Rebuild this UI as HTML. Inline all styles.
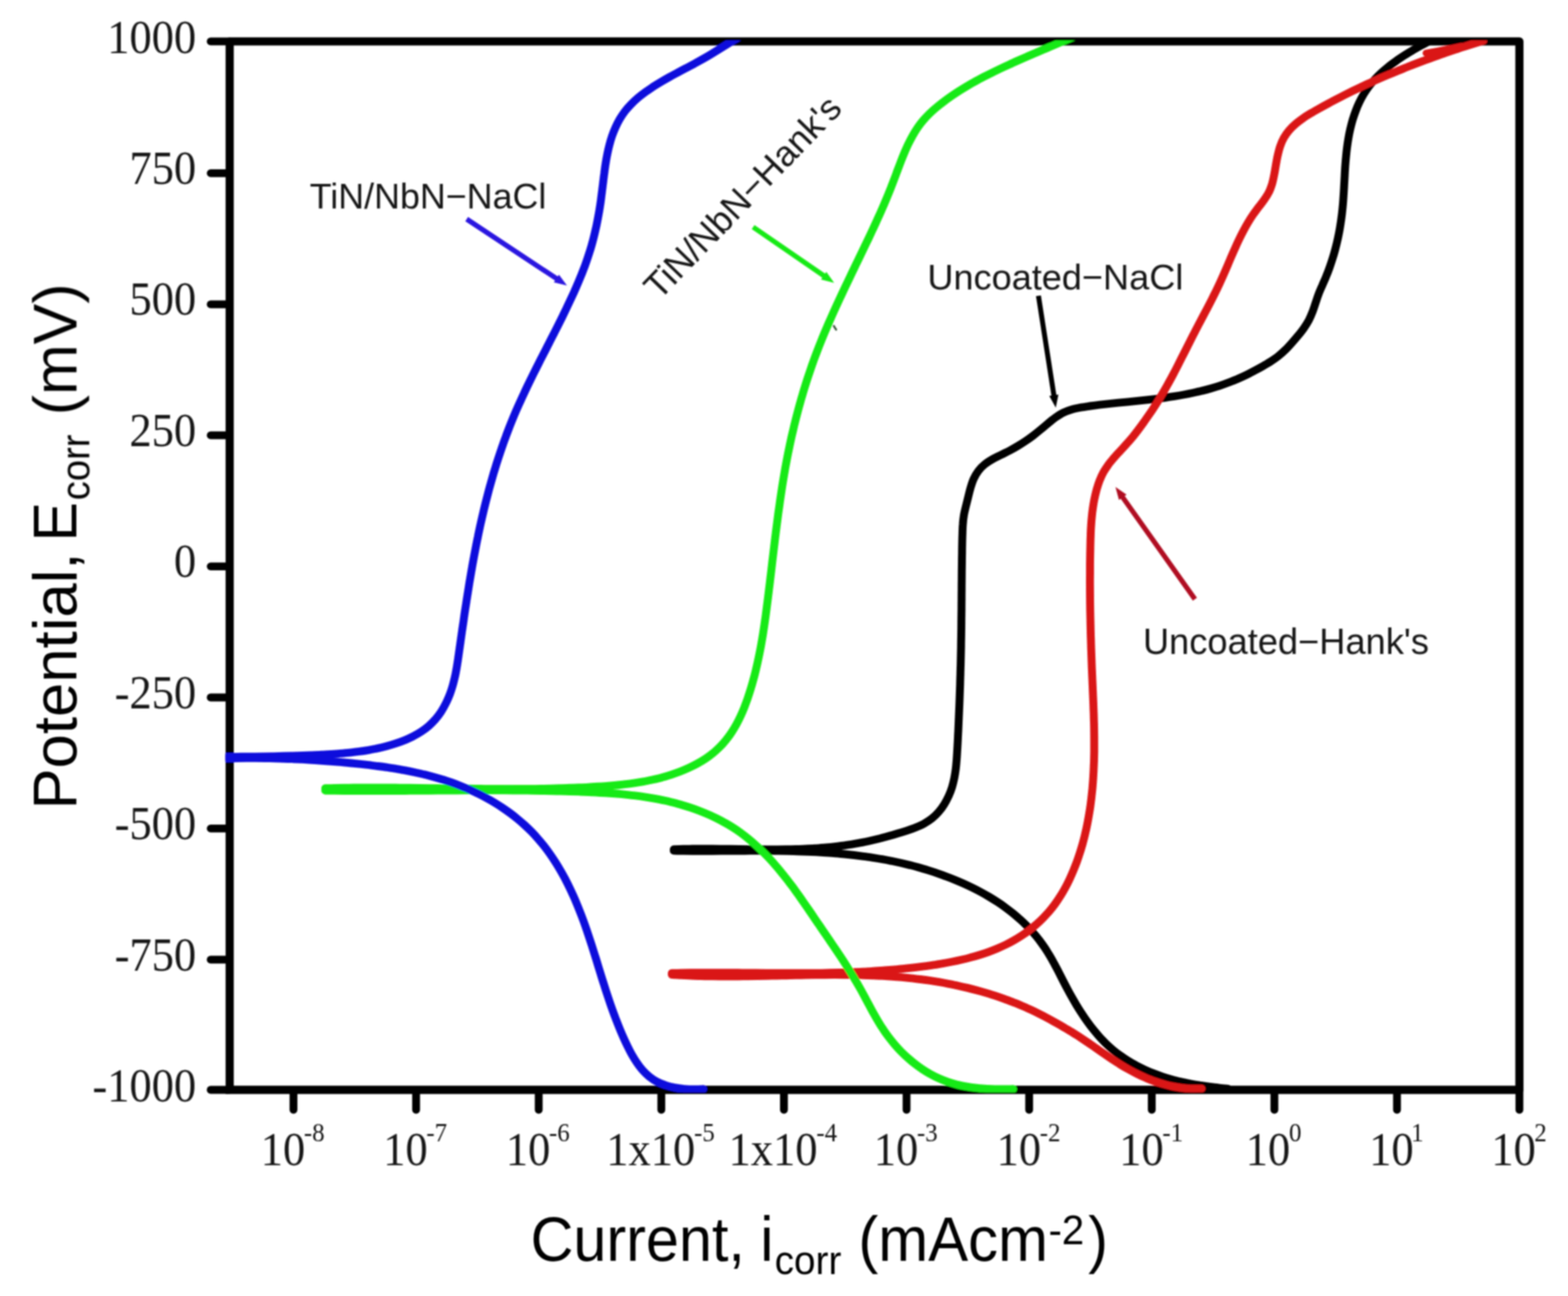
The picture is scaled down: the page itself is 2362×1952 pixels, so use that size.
<!DOCTYPE html>
<html lang="en">
<head>
<meta charset="utf-8">
<title>Potentiodynamic polarization curves</title>
<style>
html,body{margin:0;padding:0;background:#fff;}
body{width:2362px;height:1952px;overflow:hidden;}
svg{display:block;}
.tick{font-family:"Liberation Serif","DejaVu Serif",serif;fill:#151515;}
.lab{font-family:"Liberation Sans","DejaVu Sans",sans-serif;fill:#000;}
.ann{font-family:"Liberation Sans","DejaVu Sans",sans-serif;fill:#151515;}
.crv path{fill:none;stroke-linecap:round;stroke-linejoin:round;}
</style>
</head>
<body>
<svg xmlns="http://www.w3.org/2000/svg" width="2362" height="1952" viewBox="0 0 2362 1952">
<rect x="0" y="0" width="2362" height="1952" fill="#fff"/>
<g id="chart" filter="url(#soft)">

<g stroke="#000" fill="none" stroke-linecap="round">
<path d="M346.0 62.3 H2288.8 V1641.5" stroke-width="12.3" stroke-linejoin="round"/>
<path d="M2288.8 1641.5 H346.0 V62.3" stroke-width="12.3" stroke-linejoin="miter" stroke-linecap="butt"/>
<g stroke-width="11.8">
<path d="M317.4 62.3 H345.0"/>
<path d="M317.4 260.9 H345.0"/>
<path d="M317.4 458.3 H345.0"/>
<path d="M317.4 655.7 H345.0"/>
<path d="M317.4 853.1 H345.0"/>
<path d="M317.4 1050.5 H345.0"/>
<path d="M317.4 1247.9 H345.0"/>
<path d="M317.4 1445.3 H345.0"/>
<path d="M317.4 1641.5 H345.0"/>
<path d="M442.1 1642.5 V1671.6"/>
<path d="M626.8 1642.5 V1671.6"/>
<path d="M811.5 1642.5 V1671.6"/>
<path d="M996.2 1642.5 V1671.6"/>
<path d="M1180.9 1642.5 V1671.6"/>
<path d="M1365.6 1642.5 V1671.6"/>
<path d="M1550.3 1642.5 V1671.6"/>
<path d="M1735.0 1642.5 V1671.6"/>
<path d="M1919.7 1642.5 V1671.6"/>
<path d="M2104.4 1642.5 V1671.6"/>
<path d="M2288.8 1642.5 V1671.6"/>
</g></g>
<g id="yticks">
<text class="tick" font-size="67" transform="translate(295.50 79.70) scale(1.0000 1.0600)" text-anchor="end">1000</text>
<text class="tick" font-size="67" transform="translate(295.50 277.10) scale(1.0000 1.0600)" text-anchor="end">750</text>
<text class="tick" font-size="67" transform="translate(295.50 474.50) scale(1.0000 1.0600)" text-anchor="end">500</text>
<text class="tick" font-size="67" transform="translate(295.50 671.90) scale(1.0000 1.0600)" text-anchor="end">250</text>
<text class="tick" font-size="67" transform="translate(295.50 869.30) scale(1.0000 1.0600)" text-anchor="end">0</text>
<text class="tick" font-size="67" transform="translate(295.50 1066.70) scale(1.0000 1.0600)" text-anchor="end">-250</text>
<text class="tick" font-size="67" transform="translate(295.50 1264.10) scale(1.0000 1.0600)" text-anchor="end">-500</text>
<text class="tick" font-size="67" transform="translate(295.50 1461.50) scale(1.0000 1.0600)" text-anchor="end">-750</text>
<text class="tick" font-size="67" transform="translate(295.50 1658.90) scale(1.0000 1.0600)" text-anchor="end">-1000</text>
</g>
<g id="xticks">
<text class="tick" font-size="67.0" transform="translate(392.72 1755.30) scale(1.0000 1.0600)">10</text>
<text class="tick" font-size="37.5" transform="translate(457.80 1719.00) scale(1.0000 1.0600)">-8</text>
<text class="tick" font-size="67.0" transform="translate(577.28 1755.30) scale(1.0000 1.0600)">10</text>
<text class="tick" font-size="37.5" transform="translate(642.36 1719.00) scale(1.0000 1.0600)">-7</text>
<text class="tick" font-size="67.0" transform="translate(761.98 1755.30) scale(1.0000 1.0600)">10</text>
<text class="tick" font-size="37.5" transform="translate(827.06 1719.00) scale(1.0000 1.0600)">-6</text>
<text class="tick" font-size="67.0" transform="translate(913.37 1755.30) scale(1.0000 1.0600)">1x10</text>
<text class="tick" font-size="37.5" transform="translate(1045.45 1719.00) scale(1.0000 1.0600)">-5</text>
<text class="tick" font-size="67.0" transform="translate(1097.60 1755.30) scale(1.0000 1.0600)">1x10</text>
<text class="tick" font-size="37.5" transform="translate(1229.68 1719.00) scale(1.0000 1.0600)">-4</text>
<text class="tick" font-size="67.0" transform="translate(1316.27 1755.30) scale(1.0000 1.0600)">10</text>
<text class="tick" font-size="37.5" transform="translate(1381.35 1719.00) scale(1.0000 1.0600)">-3</text>
<text class="tick" font-size="67.0" transform="translate(1501.25 1755.30) scale(1.0000 1.0600)">10</text>
<text class="tick" font-size="37.5" transform="translate(1566.33 1719.00) scale(1.0000 1.0600)">-2</text>
<text class="tick" font-size="67.0" transform="translate(1686.04 1755.30) scale(1.0000 1.0600)">10</text>
<text class="tick" font-size="37.5" transform="translate(1751.12 1719.00) scale(1.0000 1.0600)">-1</text>
<text class="tick" font-size="67.0" transform="translate(1876.56 1755.30) scale(1.0000 1.0600)">10</text>
<text class="tick" font-size="37.5" transform="translate(1941.64 1719.00) scale(1.0000 1.0600)">0</text>
<text class="tick" font-size="67.0" transform="translate(2062.62 1755.30) scale(1.0000 1.0600)">10</text>
<text class="tick" font-size="37.5" transform="translate(2125.82 1719.00) scale(1.0000 1.0600)">1</text>
<text class="tick" font-size="67.0" transform="translate(2246.42 1755.30) scale(1.0000 1.0600)">10</text>
<text class="tick" font-size="37.5" transform="translate(2311.22 1719.00) scale(1.0000 1.0600)">2</text>
</g>
<g id="xlabel">
<text class="lab" font-size="89.4" transform="translate(799.13 1899.00) scale(1.0000 1.0500)">Current,</text>
<text class="lab" font-size="89.4" transform="translate(1145.17 1899.00) scale(1.0000 1.0500)">i</text>
<text class="lab" font-size="58.3" transform="translate(1166.92 1919.30) scale(1.0000 1.0500)">corr</text>
<text class="lab" font-size="90.2" transform="translate(1293.06 1899.00) scale(1.0000 1.0500)">(mAcm</text>
<text class="lab" font-size="60.5" transform="translate(1579.48 1874.00) scale(1.0000 1.0500)">-2</text>
<text class="lab" font-size="89.4" transform="translate(1639.23 1899.00) scale(1.0000 1.0500)">)</text>
</g>
<g id="ylabel">
<text class="lab" font-size="89" transform="translate(115.40 1219.36) rotate(-90) scale(1.0438 1.0500)">Potential,</text>
<text class="lab" font-size="89" transform="translate(115.40 815.54) rotate(-90) scale(1.0000 1.0500)">E</text>
<text class="lab" font-size="57.5" transform="translate(134.10 753.44) rotate(-90) scale(1.0000 1.0500)">corr</text>
<text class="lab" font-size="89" transform="translate(115.40 625.43) rotate(-90) scale(1.0292 1.0500)">(mV)</text>
</g>
<g class="crv" clip-path="url(#plotclip)">
<path d="M2152.0 62.5C2150.0 63.6 2143.9 66.9 2139.8 69.1C2135.7 71.4 2131.6 73.7 2127.5 76.2C2123.4 78.6 2119.3 81.0 2115.3 83.6C2111.3 86.2 2107.3 88.8 2103.4 91.6C2099.5 94.3 2095.6 97.2 2091.9 100.1C2088.2 103.1 2084.5 106.2 2081.1 109.4C2077.6 112.6 2074.3 115.9 2071.1 119.3C2067.9 122.8 2064.9 126.3 2062.1 130.1C2059.3 133.8 2056.7 137.7 2054.3 141.7C2051.9 145.7 2049.7 149.8 2047.7 154.1C2045.7 158.3 2043.8 162.7 2042.2 167.1C2040.5 171.5 2039.0 176.0 2037.6 180.6C2036.3 185.1 2035.1 189.8 2034.0 194.4C2032.9 199.0 2032.0 203.7 2031.2 208.4C2030.4 213.0 2029.7 217.7 2029.1 222.4C2028.5 227.1 2028.0 231.8 2027.6 236.5C2027.1 241.2 2026.8 245.9 2026.4 250.5C2026.1 255.2 2025.8 260.0 2025.6 264.7C2025.3 269.4 2025.1 274.1 2024.8 278.8C2024.6 283.5 2024.3 288.2 2024.0 292.9C2023.7 297.6 2023.4 302.3 2023.0 307.0C2022.6 311.7 2022.1 316.4 2021.6 321.0C2021.1 325.7 2020.4 330.4 2019.7 335.1C2019.0 339.7 2018.3 344.4 2017.4 349.0C2016.5 353.7 2015.6 358.3 2014.5 362.9C2013.5 367.5 2012.3 372.1 2011.1 376.6C2009.9 381.2 2008.6 385.7 2007.1 390.2C2005.7 394.7 2004.2 399.2 2002.6 403.6C2001.0 408.1 1999.3 412.5 1997.5 416.8C1995.8 421.2 1993.7 425.4 1991.9 429.8C1990.0 434.1 1988.0 438.4 1986.4 442.8C1984.7 447.2 1983.3 451.7 1981.8 456.2C1980.3 460.6 1978.9 465.2 1977.2 469.5C1975.5 473.9 1973.7 478.2 1971.5 482.4C1969.3 486.5 1966.7 490.5 1964.1 494.3C1961.4 498.2 1958.4 501.9 1955.4 505.6C1952.4 509.3 1949.2 512.9 1946.0 516.4C1942.9 519.9 1939.7 523.5 1936.4 526.8C1933.0 530.1 1929.6 533.2 1925.9 536.1C1922.3 539.0 1918.4 541.6 1914.4 544.2C1910.5 546.7 1906.4 549.1 1902.4 551.5C1898.3 553.8 1894.1 556.1 1889.9 558.3C1885.8 560.6 1881.5 562.7 1877.2 564.8C1873.0 566.8 1868.6 568.8 1864.3 570.7C1859.9 572.5 1855.6 574.3 1851.1 576.0C1846.7 577.7 1842.3 579.3 1837.8 580.8C1833.3 582.3 1828.8 583.7 1824.3 585.0C1819.8 586.3 1815.2 587.5 1810.6 588.6C1806.1 589.8 1801.5 590.8 1796.9 591.8C1792.3 592.8 1787.6 593.7 1783.0 594.5C1778.4 595.4 1773.7 596.2 1769.1 596.9C1764.4 597.6 1759.7 598.3 1755.0 599.0C1750.4 599.6 1745.7 600.2 1741.0 600.8C1736.3 601.3 1731.6 601.9 1726.9 602.4C1722.2 602.9 1717.5 603.4 1712.8 603.9C1708.1 604.4 1703.4 604.8 1698.7 605.3C1694.1 605.8 1689.4 606.2 1684.7 606.7C1680.0 607.2 1675.3 607.6 1670.7 608.1C1666.0 608.6 1661.3 609.2 1656.6 609.7C1651.9 610.3 1647.2 610.9 1642.5 611.5C1637.8 612.2 1633.0 612.8 1628.4 613.7C1623.7 614.6 1619.0 615.5 1614.5 616.8C1610.1 618.1 1605.7 619.7 1601.6 621.7C1597.4 623.8 1593.6 626.4 1589.7 629.0C1585.9 631.7 1582.3 634.9 1578.6 637.9C1574.9 640.9 1571.3 644.0 1567.6 647.0C1564.0 650.0 1560.3 653.0 1556.5 655.9C1552.8 658.7 1549.0 661.5 1545.1 664.1C1541.2 666.7 1537.3 669.2 1533.3 671.6C1529.3 674.0 1525.2 676.3 1521.0 678.6C1516.8 680.8 1512.5 682.8 1508.2 685.0C1503.9 687.2 1499.4 689.2 1495.3 691.5C1491.2 693.9 1487.1 696.3 1483.5 699.3C1479.9 702.2 1476.7 705.5 1473.9 709.1C1471.1 712.8 1468.8 716.9 1466.8 721.1C1464.8 725.3 1463.5 729.9 1462.1 734.5C1460.7 739.0 1459.7 743.8 1458.5 748.4C1457.4 753.0 1456.2 757.6 1455.1 762.2C1454.0 766.8 1452.8 771.4 1452.0 776.0C1451.2 780.6 1450.7 785.3 1450.4 790.0C1450.0 794.6 1449.9 799.4 1449.8 804.1C1449.6 808.8 1449.5 813.5 1449.4 818.2C1449.3 822.9 1449.2 827.6 1449.2 832.4C1449.1 837.1 1449.0 841.8 1449.0 846.5C1448.9 851.2 1448.9 856.0 1448.8 860.7C1448.8 865.4 1448.7 870.1 1448.7 874.8C1448.6 879.6 1448.6 884.3 1448.6 889.0C1448.5 893.7 1448.5 898.4 1448.5 903.2C1448.4 907.9 1448.4 912.6 1448.4 917.3C1448.3 922.0 1448.3 926.8 1448.2 931.5C1448.2 936.2 1448.1 940.9 1448.1 945.6C1448.0 950.4 1448.0 955.1 1447.9 959.8C1447.8 964.5 1447.7 969.2 1447.7 973.9C1447.6 978.6 1447.5 983.4 1447.4 988.1C1447.3 992.8 1447.2 997.5 1447.1 1002.2C1446.9 1006.9 1446.8 1011.6 1446.7 1016.4C1446.5 1021.1 1446.4 1025.8 1446.3 1030.5C1446.1 1035.2 1446.0 1039.9 1445.8 1044.6C1445.6 1049.3 1445.5 1054.1 1445.3 1058.8C1445.1 1063.5 1444.9 1068.2 1444.7 1072.9C1444.5 1077.6 1444.3 1082.4 1444.1 1087.1C1443.9 1091.8 1443.7 1096.5 1443.5 1101.2C1443.2 1105.9 1443.0 1110.7 1442.8 1115.4C1442.5 1120.1 1442.3 1124.8 1442.0 1129.6C1441.7 1134.3 1441.5 1139.0 1441.1 1143.7C1440.7 1148.4 1440.4 1153.1 1439.8 1157.8C1439.2 1162.5 1438.5 1167.1 1437.6 1171.7C1436.6 1176.3 1435.6 1180.9 1434.2 1185.4C1432.8 1189.9 1431.1 1194.4 1429.2 1198.7C1427.2 1203.0 1425.0 1207.4 1422.4 1211.4C1419.9 1215.4 1417.1 1219.4 1414.0 1222.9C1410.9 1226.5 1407.5 1229.8 1403.9 1232.7C1400.3 1235.6 1396.3 1238.1 1392.3 1240.4C1388.2 1242.7 1383.9 1244.5 1379.5 1246.3C1375.1 1248.1 1370.6 1249.6 1366.1 1251.1C1361.5 1252.6 1356.9 1254.0 1352.4 1255.3C1347.8 1256.7 1343.3 1258.0 1338.7 1259.3C1334.1 1260.6 1329.5 1261.8 1325.0 1263.0C1320.4 1264.1 1315.8 1265.2 1311.2 1266.3C1306.6 1267.3 1302.0 1268.3 1297.4 1269.2C1292.8 1270.0 1288.1 1270.9 1283.5 1271.6C1278.8 1272.3 1274.2 1273.0 1269.5 1273.6C1264.9 1274.3 1260.2 1274.8 1255.5 1275.3C1250.9 1275.8 1246.2 1276.3 1241.5 1276.6C1236.8 1277.0 1232.1 1277.4 1227.4 1277.7C1222.7 1278.0 1218.0 1278.2 1213.3 1278.4C1208.6 1278.7 1203.9 1278.8 1199.1 1279.0C1194.4 1279.1 1189.7 1279.2 1185.0 1279.3C1180.2 1279.4 1175.5 1279.4 1170.8 1279.4C1166.0 1279.5 1161.3 1279.4 1156.6 1279.4C1151.8 1279.4 1147.1 1279.4 1142.3 1279.3C1137.6 1279.3 1132.9 1279.2 1128.1 1279.2C1123.4 1279.1 1118.6 1279.0 1113.9 1279.0C1109.2 1278.9 1104.4 1278.8 1099.7 1278.8C1095.0 1278.7 1090.2 1278.6 1085.5 1278.6C1080.8 1278.5 1076.1 1278.5 1071.3 1278.4C1066.6 1278.4 1061.9 1278.4 1057.2 1278.4C1052.5 1278.4 1047.8 1278.4 1043.1 1278.5C1038.4 1278.6 1033.7 1278.6 1029.0 1278.8C1024.3 1278.9 1017.3 1279.1 1015.0 1279.2" stroke="#000" stroke-width="11.9" />
<path d="M1015.0 1281.4C1017.4 1281.4 1024.5 1281.6 1029.3 1281.6C1034.0 1281.7 1038.8 1281.7 1043.5 1281.7C1048.3 1281.7 1053.1 1281.7 1057.8 1281.7C1062.6 1281.7 1067.4 1281.7 1072.1 1281.7C1076.9 1281.7 1081.7 1281.7 1086.4 1281.6C1091.2 1281.6 1096.0 1281.6 1100.8 1281.6C1105.5 1281.5 1110.3 1281.5 1115.1 1281.5C1119.9 1281.5 1124.6 1281.4 1129.4 1281.4C1134.2 1281.4 1139.0 1281.4 1143.8 1281.4C1148.5 1281.4 1153.3 1281.4 1158.1 1281.5C1162.9 1281.5 1167.6 1281.5 1172.4 1281.6C1177.2 1281.7 1182.0 1281.7 1186.7 1281.8C1191.5 1281.9 1196.3 1282.0 1201.0 1282.2C1205.8 1282.3 1210.6 1282.5 1215.3 1282.7C1220.1 1282.9 1224.9 1283.1 1229.6 1283.3C1234.4 1283.6 1239.1 1283.9 1243.9 1284.2C1248.6 1284.5 1253.4 1284.8 1258.1 1285.2C1262.9 1285.6 1267.6 1286.0 1272.4 1286.5C1277.1 1287.0 1281.9 1287.5 1286.6 1288.0C1291.3 1288.6 1296.0 1289.2 1300.8 1289.8C1305.5 1290.4 1310.2 1291.1 1314.9 1291.8C1319.6 1292.6 1324.3 1293.4 1329.0 1294.2C1333.7 1295.0 1338.4 1295.9 1343.0 1296.8C1347.7 1297.8 1352.4 1298.8 1357.0 1299.8C1361.7 1300.9 1366.3 1302.0 1370.9 1303.1C1375.5 1304.3 1380.1 1305.5 1384.7 1306.8C1389.3 1308.1 1393.9 1309.5 1398.5 1310.9C1403.0 1312.3 1407.6 1313.8 1412.1 1315.3C1416.6 1316.9 1421.1 1318.5 1425.6 1320.2C1430.1 1321.8 1434.6 1323.6 1439.0 1325.4C1443.4 1327.2 1447.8 1329.1 1452.2 1331.1C1456.6 1333.1 1460.9 1335.1 1465.2 1337.3C1469.5 1339.4 1473.8 1341.6 1478.0 1343.9C1482.2 1346.2 1486.4 1348.6 1490.5 1351.0C1494.6 1353.5 1498.6 1356.0 1502.6 1358.6C1506.6 1361.2 1510.5 1363.9 1514.3 1366.7C1518.1 1369.5 1521.9 1372.4 1525.6 1375.4C1529.2 1378.4 1532.8 1381.4 1536.3 1384.6C1539.9 1387.7 1543.3 1391.0 1546.6 1394.3C1549.9 1397.7 1553.1 1401.1 1556.2 1404.7C1559.3 1408.2 1562.4 1411.9 1565.3 1415.6C1568.1 1419.4 1570.9 1423.2 1573.6 1427.2C1576.2 1431.1 1578.8 1435.2 1581.2 1439.3C1583.7 1443.4 1586.0 1447.7 1588.3 1451.9C1590.6 1456.1 1592.8 1460.4 1595.1 1464.7C1597.3 1469.0 1599.5 1473.4 1601.7 1477.7C1603.9 1482.0 1606.1 1486.2 1608.4 1490.5C1610.6 1494.7 1612.9 1498.9 1615.3 1503.0C1617.7 1507.2 1620.1 1511.3 1622.5 1515.4C1625.0 1519.4 1627.5 1523.5 1630.2 1527.4C1632.8 1531.4 1635.5 1535.3 1638.3 1539.2C1641.1 1543.1 1643.9 1546.9 1646.9 1550.6C1649.9 1554.3 1652.9 1557.9 1656.1 1561.4C1659.3 1564.9 1662.5 1568.4 1665.9 1571.7C1669.3 1575.0 1672.8 1578.2 1676.4 1581.2C1680.1 1584.3 1683.8 1587.2 1687.7 1589.9C1691.5 1592.7 1695.5 1595.4 1699.6 1597.9C1703.6 1600.4 1707.8 1602.7 1712.0 1605.0C1716.2 1607.2 1720.6 1609.3 1724.9 1611.3C1729.3 1613.3 1733.7 1615.2 1738.2 1616.9C1742.7 1618.7 1747.3 1620.3 1751.8 1621.8C1756.4 1623.3 1761.0 1624.7 1765.6 1625.9C1770.2 1627.2 1774.8 1628.3 1779.4 1629.4C1784.1 1630.4 1788.7 1631.4 1793.4 1632.3C1798.1 1633.1 1802.7 1633.9 1807.4 1634.7C1812.1 1635.4 1816.8 1636.0 1821.5 1636.7C1826.2 1637.3 1831.0 1637.9 1835.7 1638.4C1840.5 1639.0 1847.6 1639.7 1850.0 1640.0" stroke="#000" stroke-width="11.9" />
<path d="M2234.3 61.4C2232.0 62.1 2225.3 64.2 2220.8 65.6C2216.3 67.0 2211.8 68.4 2207.3 69.8C2202.8 71.3 2198.4 72.8 2193.9 74.2C2189.4 75.7 2185.0 77.2 2180.5 78.7C2176.1 80.2 2171.7 81.8 2167.2 83.3C2162.8 84.9 2158.4 86.5 2154.0 88.1C2149.6 89.7 2145.2 91.3 2140.8 92.9C2136.4 94.6 2132.0 96.2 2127.6 97.9C2123.3 99.6 2118.9 101.3 2114.6 103.1C2110.2 104.8 2105.9 106.6 2101.5 108.4C2097.2 110.1 2092.9 112.0 2088.6 113.8C2084.3 115.6 2080.0 117.5 2075.7 119.4C2071.4 121.3 2067.1 123.2 2062.8 125.2C2058.5 127.1 2054.3 129.1 2050.0 131.1C2045.8 133.1 2041.5 135.2 2037.3 137.2C2033.0 139.3 2028.8 141.4 2024.6 143.5C2020.4 145.6 2016.2 147.8 2012.0 150.0C2007.8 152.2 2003.6 154.4 1999.4 156.7C1995.3 158.9 1991.1 161.2 1986.9 163.6C1982.8 165.9 1978.6 168.2 1974.5 170.7C1970.5 173.1 1966.4 175.6 1962.6 178.3C1958.8 181.0 1955.0 183.7 1951.6 186.7C1948.1 189.7 1944.8 192.9 1941.9 196.3C1939.0 199.7 1936.3 203.4 1934.1 207.3C1931.8 211.3 1930.0 215.6 1928.5 220.1C1926.9 224.6 1925.8 229.4 1924.7 234.2C1923.6 239.0 1922.8 244.0 1921.9 248.8C1921.1 253.6 1920.4 258.5 1919.4 263.2C1918.5 267.8 1917.6 272.4 1916.3 276.8C1914.9 281.1 1913.5 285.4 1911.5 289.4C1909.4 293.5 1906.9 297.3 1904.2 301.2C1901.6 305.0 1898.5 308.6 1895.6 312.4C1892.8 316.2 1889.9 319.9 1887.3 323.8C1884.6 327.7 1882.1 331.7 1879.7 335.7C1877.3 339.7 1875.1 343.8 1872.9 348.0C1870.7 352.1 1868.6 356.3 1866.6 360.5C1864.5 364.7 1862.6 369.0 1860.7 373.3C1858.7 377.6 1856.9 381.9 1855.0 386.2C1853.2 390.5 1851.3 394.8 1849.5 399.2C1847.6 403.5 1845.8 407.8 1843.9 412.1C1842.0 416.4 1840.1 420.7 1838.1 425.0C1836.2 429.3 1834.1 433.5 1832.1 437.7C1830.0 441.9 1827.9 446.1 1825.8 450.3C1823.7 454.5 1821.5 458.7 1819.3 462.9C1817.1 467.0 1814.9 471.2 1812.8 475.3C1810.6 479.5 1808.4 483.7 1806.2 487.8C1804.0 492.0 1801.8 496.1 1799.7 500.3C1797.5 504.5 1795.4 508.7 1793.2 512.9C1791.1 517.1 1789.0 521.3 1786.9 525.5C1784.8 529.7 1782.7 533.9 1780.5 538.0C1778.4 542.2 1776.3 546.4 1774.2 550.6C1772.0 554.8 1769.9 559.0 1767.7 563.1C1765.5 567.3 1763.3 571.4 1761.0 575.5C1758.7 579.6 1756.5 583.7 1754.1 587.8C1751.8 591.9 1749.4 595.9 1746.9 599.9C1744.5 604.0 1742.0 607.9 1739.4 611.9C1736.9 615.9 1734.3 619.8 1731.6 623.7C1729.0 627.5 1726.2 631.4 1723.5 635.2C1720.8 639.0 1718.0 642.8 1715.2 646.6C1712.4 650.3 1709.5 654.1 1706.6 657.7C1703.6 661.3 1700.5 664.8 1697.4 668.3C1694.3 671.9 1691.0 675.3 1687.9 678.7C1684.7 682.2 1681.5 685.6 1678.4 689.1C1675.4 692.7 1672.3 696.2 1669.6 699.9C1666.9 703.7 1664.3 707.5 1662.0 711.6C1659.8 715.7 1657.9 720.0 1656.2 724.4C1654.5 728.8 1653.1 733.4 1651.8 737.9C1650.6 742.5 1649.5 747.1 1648.6 751.7C1647.6 756.4 1646.9 761.0 1646.2 765.7C1645.5 770.3 1645.0 775.0 1644.6 779.6C1644.1 784.3 1643.8 789.0 1643.5 793.7C1643.2 798.4 1643.0 803.1 1642.9 807.8C1642.7 812.5 1642.6 817.2 1642.5 821.9C1642.4 826.6 1642.3 831.3 1642.2 836.0C1642.1 840.7 1642.1 845.4 1642.0 850.1C1642.0 854.8 1642.0 859.5 1642.0 864.2C1641.9 868.9 1641.9 873.6 1641.9 878.3C1641.9 883.0 1642.0 887.7 1642.0 892.4C1642.0 897.1 1642.1 901.8 1642.1 906.5C1642.2 911.1 1642.2 915.8 1642.3 920.5C1642.4 925.2 1642.5 929.9 1642.6 934.6C1642.7 939.3 1642.8 944.0 1642.9 948.7C1643.0 953.4 1643.1 958.1 1643.3 962.8C1643.4 967.5 1643.6 972.2 1643.7 976.9C1643.9 981.6 1644.0 986.3 1644.2 991.0C1644.4 995.7 1644.5 1000.4 1644.7 1005.1C1644.9 1009.8 1645.1 1014.5 1645.3 1019.2C1645.5 1023.9 1645.7 1028.6 1645.9 1033.3C1646.1 1038.0 1646.3 1042.7 1646.5 1047.4C1646.7 1052.1 1646.9 1056.8 1647.1 1061.5C1647.2 1066.2 1647.4 1070.9 1647.6 1075.6C1647.7 1080.3 1647.8 1085.0 1648.0 1089.7C1648.1 1094.4 1648.2 1099.1 1648.2 1103.8C1648.3 1108.5 1648.3 1113.2 1648.3 1117.9C1648.3 1122.6 1648.3 1127.3 1648.3 1132.0C1648.2 1136.7 1648.1 1141.4 1648.0 1146.1C1647.8 1150.8 1647.6 1155.5 1647.4 1160.2C1647.2 1164.9 1646.9 1169.6 1646.6 1174.3C1646.3 1179.0 1645.9 1183.7 1645.5 1188.4C1645.0 1193.0 1644.5 1197.7 1644.0 1202.4C1643.4 1207.1 1642.8 1211.7 1642.2 1216.4C1641.5 1221.0 1640.7 1225.6 1639.9 1230.3C1639.1 1234.9 1638.3 1239.5 1637.3 1244.1C1636.4 1248.7 1635.3 1253.3 1634.2 1257.8C1633.1 1262.4 1631.9 1266.9 1630.7 1271.4C1629.4 1275.9 1628.1 1280.4 1626.6 1284.8C1625.2 1289.3 1623.7 1293.7 1622.1 1298.1C1620.4 1302.5 1618.7 1306.9 1616.9 1311.3C1615.1 1315.6 1613.2 1319.9 1611.2 1324.2C1609.2 1328.4 1607.1 1332.7 1604.9 1336.8C1602.6 1341.0 1600.3 1345.1 1597.7 1349.1C1595.2 1353.1 1592.6 1357.1 1589.8 1360.9C1587.0 1364.7 1584.1 1368.5 1581.0 1372.1C1577.9 1375.7 1574.7 1379.2 1571.4 1382.6C1568.1 1386.0 1564.7 1389.2 1561.2 1392.3C1557.6 1395.4 1554.0 1398.4 1550.3 1401.3C1546.6 1404.1 1542.8 1406.8 1538.9 1409.3C1535.0 1411.9 1531.0 1414.3 1527.0 1416.5C1523.0 1418.8 1518.9 1421.0 1514.7 1423.0C1510.6 1425.0 1506.3 1426.9 1502.0 1428.7C1497.7 1430.5 1493.4 1432.2 1489.0 1433.8C1484.6 1435.4 1480.2 1436.8 1475.7 1438.2C1471.2 1439.6 1466.7 1440.9 1462.1 1442.1C1457.6 1443.4 1453.0 1444.5 1448.4 1445.5C1443.7 1446.6 1439.1 1447.6 1434.4 1448.5C1429.8 1449.4 1425.1 1450.3 1420.4 1451.1C1415.7 1451.9 1411.0 1452.7 1406.3 1453.4C1401.6 1454.1 1396.9 1454.8 1392.2 1455.4C1387.5 1456.0 1382.8 1456.6 1378.1 1457.2C1373.4 1457.7 1368.7 1458.2 1364.0 1458.7C1359.3 1459.2 1354.6 1459.7 1349.9 1460.1C1345.3 1460.5 1340.6 1460.9 1335.9 1461.3C1331.2 1461.7 1326.5 1462.0 1321.8 1462.3C1317.2 1462.7 1312.5 1462.9 1307.8 1463.2C1303.1 1463.5 1298.4 1463.7 1293.8 1463.9C1289.1 1464.1 1284.4 1464.3 1279.7 1464.5C1275.1 1464.7 1270.4 1464.8 1265.7 1465.0C1261.1 1465.1 1256.4 1465.2 1251.7 1465.3C1247.0 1465.4 1242.4 1465.5 1237.7 1465.6C1233.0 1465.6 1228.3 1465.7 1223.7 1465.7C1219.0 1465.8 1214.3 1465.8 1209.6 1465.8C1205.0 1465.8 1200.3 1465.8 1195.6 1465.8C1190.9 1465.8 1186.3 1465.8 1181.6 1465.8C1176.9 1465.8 1172.2 1465.8 1167.5 1465.7C1162.9 1465.7 1158.2 1465.7 1153.5 1465.6C1148.8 1465.6 1144.1 1465.6 1139.4 1465.5C1134.7 1465.5 1130.0 1465.5 1125.3 1465.4C1120.6 1465.4 1115.9 1465.3 1111.2 1465.3C1106.5 1465.3 1101.8 1465.2 1097.1 1465.2C1092.4 1465.2 1087.7 1465.2 1083.0 1465.2C1078.3 1465.2 1073.6 1465.2 1068.8 1465.2C1064.1 1465.2 1059.4 1465.2 1054.7 1465.2C1049.9 1465.2 1045.2 1465.3 1040.5 1465.3C1035.7 1465.4 1031.0 1465.4 1026.3 1465.5C1021.5 1465.6 1014.4 1465.8 1012.0 1465.8" stroke="#da1217" stroke-width="11.9" />
<path d="M1012.0 1468.0C1014.4 1468.1 1021.5 1468.6 1026.3 1468.9C1031.0 1469.1 1035.8 1469.4 1040.6 1469.5C1045.4 1469.7 1050.1 1469.9 1054.9 1470.0C1059.7 1470.2 1064.5 1470.3 1069.3 1470.3C1074.1 1470.4 1078.9 1470.5 1083.7 1470.5C1088.5 1470.5 1093.3 1470.5 1098.1 1470.5C1102.9 1470.5 1107.7 1470.5 1112.5 1470.5C1117.3 1470.4 1122.1 1470.4 1126.9 1470.3C1131.7 1470.2 1136.5 1470.1 1141.4 1470.1C1146.2 1470.0 1151.0 1469.9 1155.8 1469.8C1160.6 1469.7 1165.5 1469.6 1170.3 1469.5C1175.1 1469.4 1179.9 1469.3 1184.7 1469.2C1189.6 1469.0 1194.4 1468.9 1199.2 1468.8C1204.0 1468.7 1208.9 1468.7 1213.7 1468.6C1218.5 1468.5 1223.3 1468.4 1228.1 1468.3C1233.0 1468.3 1237.8 1468.2 1242.6 1468.2C1247.4 1468.2 1252.2 1468.1 1257.1 1468.1C1261.9 1468.1 1266.7 1468.1 1271.5 1468.2C1276.3 1468.2 1281.1 1468.3 1285.9 1468.4C1290.7 1468.4 1295.5 1468.6 1300.3 1468.7C1305.2 1468.8 1310.0 1469.0 1314.8 1469.2C1319.5 1469.4 1324.3 1469.6 1329.1 1469.9C1333.9 1470.2 1338.7 1470.5 1343.5 1470.8C1348.3 1471.1 1353.1 1471.5 1357.8 1471.9C1362.6 1472.4 1367.4 1472.8 1372.2 1473.3C1376.9 1473.8 1381.7 1474.4 1386.4 1475.0C1391.2 1475.6 1395.9 1476.2 1400.7 1476.9C1405.4 1477.6 1410.2 1478.4 1414.9 1479.2C1419.6 1480.0 1424.4 1480.9 1429.1 1481.8C1433.8 1482.7 1438.5 1483.6 1443.2 1484.7C1447.9 1485.7 1452.6 1486.8 1457.2 1487.9C1461.9 1489.0 1466.5 1490.2 1471.2 1491.5C1475.8 1492.7 1480.4 1494.0 1485.0 1495.4C1489.6 1496.8 1494.2 1498.2 1498.8 1499.7C1503.3 1501.2 1507.9 1502.8 1512.4 1504.4C1516.9 1506.0 1521.4 1507.7 1525.9 1509.4C1530.3 1511.2 1534.8 1513.0 1539.2 1514.9C1543.6 1516.7 1548.0 1518.7 1552.4 1520.7C1556.8 1522.7 1561.1 1524.8 1565.4 1527.0C1569.7 1529.1 1574.0 1531.3 1578.2 1533.6C1582.5 1535.9 1586.7 1538.2 1590.9 1540.6C1595.1 1542.9 1599.3 1545.3 1603.4 1547.8C1607.6 1550.2 1611.7 1552.7 1615.8 1555.2C1619.8 1557.8 1623.9 1560.3 1627.9 1562.9C1631.9 1565.6 1635.9 1568.3 1639.9 1571.0C1643.8 1573.7 1647.8 1576.4 1651.7 1579.2C1655.6 1581.9 1659.6 1584.7 1663.5 1587.4C1667.5 1590.2 1671.4 1592.9 1675.4 1595.6C1679.4 1598.2 1683.4 1600.8 1687.5 1603.3C1691.6 1605.9 1695.8 1608.3 1700.0 1610.6C1704.2 1613.0 1708.4 1615.2 1712.7 1617.3C1717.0 1619.5 1721.4 1621.5 1725.8 1623.4C1730.2 1625.2 1734.6 1627.0 1739.1 1628.6C1743.6 1630.2 1748.2 1631.6 1752.7 1632.9C1757.3 1634.2 1762.0 1635.4 1766.7 1636.3C1771.3 1637.2 1776.1 1638.0 1780.8 1638.6C1785.6 1639.2 1790.4 1639.6 1795.3 1639.7C1800.2 1639.9 1807.5 1639.6 1810.0 1639.6" stroke="#da1217" stroke-width="11.9" />
<path d="M2148.0 80.0C2152.0 79.2 2163.0 77.2 2172.0 75.5C2181.0 73.8 2197.0 70.5 2202.0 69.5" stroke="#da1217" stroke-width="10" />
<path d="M1650.0 41.0C1647.8 42.0 1641.3 44.9 1637.0 46.8C1632.7 48.8 1628.4 50.6 1624.0 52.5C1619.7 54.4 1615.4 56.3 1611.0 58.1C1606.7 60.0 1602.4 61.8 1598.0 63.6C1593.7 65.4 1589.4 67.3 1585.1 69.1C1580.8 70.9 1576.4 72.7 1572.1 74.6C1567.8 76.4 1563.5 78.2 1559.2 80.1C1554.9 81.9 1550.6 83.7 1546.3 85.6C1542.0 87.5 1537.7 89.4 1533.4 91.3C1529.1 93.2 1524.8 95.1 1520.6 97.1C1516.3 99.0 1512.0 101.0 1507.8 103.0C1503.5 105.1 1499.2 107.1 1495.0 109.2C1490.7 111.3 1486.5 113.4 1482.3 115.6C1478.1 117.8 1473.9 120.0 1469.7 122.3C1465.6 124.6 1461.4 126.9 1457.3 129.3C1453.3 131.7 1449.2 134.2 1445.2 136.7C1441.2 139.3 1437.2 141.9 1433.3 144.6C1429.4 147.3 1425.6 150.0 1421.8 152.9C1418.0 155.7 1414.3 158.7 1410.7 161.7C1407.0 164.7 1403.5 167.9 1400.1 171.2C1396.8 174.4 1393.6 177.8 1390.6 181.4C1387.6 184.9 1384.8 188.6 1382.2 192.4C1379.6 196.2 1377.2 200.2 1374.9 204.2C1372.6 208.3 1370.5 212.4 1368.4 216.6C1366.4 220.9 1364.5 225.2 1362.6 229.5C1360.8 233.8 1359.0 238.3 1357.3 242.7C1355.6 247.1 1353.9 251.6 1352.2 256.0C1350.5 260.5 1348.9 265.0 1347.2 269.4C1345.5 273.9 1343.8 278.3 1342.1 282.7C1340.3 287.1 1338.6 291.5 1336.8 295.8C1335.0 300.2 1333.1 304.5 1331.3 308.9C1329.4 313.2 1327.5 317.5 1325.6 321.8C1323.7 326.0 1321.7 330.3 1319.8 334.6C1317.8 338.8 1315.9 343.1 1313.9 347.3C1311.9 351.6 1309.9 355.8 1307.9 360.1C1305.9 364.3 1303.8 368.5 1301.8 372.8C1299.8 377.0 1297.7 381.2 1295.7 385.5C1293.6 389.7 1291.6 394.0 1289.5 398.2C1287.5 402.4 1285.4 406.7 1283.4 410.9C1281.4 415.2 1279.3 419.4 1277.3 423.7C1275.2 428.0 1273.2 432.2 1271.2 436.5C1269.2 440.8 1267.2 445.0 1265.2 449.3C1263.2 453.6 1261.2 457.9 1259.2 462.2C1257.3 466.5 1255.3 470.8 1253.4 475.1C1251.5 479.4 1249.6 483.7 1247.7 488.0C1245.8 492.4 1244.0 496.7 1242.1 501.1C1240.3 505.4 1238.5 509.8 1236.8 514.1C1235.0 518.5 1233.3 522.9 1231.6 527.3C1229.9 531.7 1228.3 536.1 1226.6 540.5C1225.0 544.9 1223.4 549.4 1221.9 553.8C1220.4 558.2 1218.9 562.7 1217.4 567.2C1215.9 571.6 1214.5 576.1 1213.1 580.6C1211.7 585.1 1210.3 589.6 1209.0 594.1C1207.6 598.6 1206.3 603.1 1205.1 607.7C1203.8 612.2 1202.6 616.7 1201.4 621.3C1200.2 625.8 1199.0 630.4 1197.9 634.9C1196.7 639.5 1195.6 644.1 1194.6 648.7C1193.5 653.3 1192.4 657.8 1191.4 662.4C1190.4 667.0 1189.4 671.6 1188.5 676.3C1187.5 680.9 1186.6 685.5 1185.7 690.1C1184.8 694.7 1184.0 699.4 1183.1 704.0C1182.3 708.6 1181.5 713.3 1180.7 717.9C1179.9 722.6 1179.2 727.2 1178.4 731.9C1177.7 736.5 1177.0 741.2 1176.3 745.9C1175.6 750.5 1174.9 755.2 1174.3 759.9C1173.6 764.5 1173.0 769.2 1172.3 773.9C1171.7 778.6 1171.1 783.2 1170.5 787.9C1169.9 792.6 1169.3 797.3 1168.7 802.0C1168.1 806.7 1167.5 811.3 1167.0 816.0C1166.4 820.7 1165.9 825.4 1165.3 830.1C1164.7 834.8 1164.2 839.5 1163.6 844.1C1163.1 848.8 1162.5 853.5 1162.0 858.2C1161.4 862.9 1160.9 867.5 1160.3 872.2C1159.8 876.9 1159.2 881.6 1158.6 886.2C1158.1 890.9 1157.5 895.6 1156.9 900.2C1156.3 904.9 1155.7 909.6 1155.1 914.2C1154.5 918.9 1153.9 923.5 1153.3 928.2C1152.6 932.8 1152.0 937.5 1151.3 942.1C1150.6 946.8 1149.9 951.4 1149.2 956.0C1148.4 960.6 1147.6 965.3 1146.8 969.9C1146.0 974.5 1145.1 979.1 1144.2 983.7C1143.3 988.3 1142.3 992.9 1141.3 997.5C1140.3 1002.1 1139.2 1006.7 1138.1 1011.3C1137.0 1015.9 1135.8 1020.5 1134.5 1025.0C1133.3 1029.6 1131.9 1034.2 1130.5 1038.8C1129.1 1043.3 1127.6 1047.9 1126.1 1052.4C1124.5 1056.9 1122.8 1061.4 1121.1 1065.8C1119.3 1070.3 1117.4 1074.7 1115.4 1079.0C1113.4 1083.3 1111.3 1087.5 1109.0 1091.6C1106.7 1095.7 1104.3 1099.7 1101.7 1103.6C1099.2 1107.5 1096.4 1111.2 1093.5 1114.8C1090.6 1118.4 1087.6 1121.9 1084.3 1125.1C1081.0 1128.4 1077.6 1131.5 1074.0 1134.4C1070.4 1137.3 1066.6 1140.1 1062.7 1142.7C1058.8 1145.3 1054.7 1147.7 1050.6 1150.0C1046.5 1152.3 1042.2 1154.4 1037.9 1156.4C1033.5 1158.4 1029.1 1160.3 1024.7 1162.0C1020.2 1163.7 1015.6 1165.3 1011.1 1166.8C1006.6 1168.3 1002.0 1169.6 997.4 1170.9C992.8 1172.1 988.2 1173.2 983.6 1174.3C979.0 1175.3 974.3 1176.2 969.7 1177.1C965.1 1177.9 960.4 1178.7 955.8 1179.4C951.2 1180.1 946.5 1180.7 941.8 1181.2C937.2 1181.8 932.5 1182.2 927.8 1182.7C923.2 1183.1 918.5 1183.5 913.8 1183.9C909.1 1184.2 904.4 1184.5 899.7 1184.8C895.1 1185.1 890.4 1185.4 885.7 1185.6C881.0 1185.9 876.3 1186.1 871.6 1186.3C866.9 1186.5 862.2 1186.7 857.5 1186.8C852.8 1187.0 848.1 1187.2 843.4 1187.3C838.7 1187.4 834.0 1187.6 829.3 1187.7C824.6 1187.8 819.9 1187.9 815.2 1187.9C810.5 1188.0 805.8 1188.1 801.1 1188.1C796.3 1188.2 791.6 1188.2 786.9 1188.2C782.2 1188.3 777.5 1188.3 772.8 1188.3C768.1 1188.3 763.4 1188.3 758.6 1188.3C753.9 1188.3 749.2 1188.3 744.5 1188.2C739.8 1188.2 735.1 1188.2 730.3 1188.1C725.6 1188.1 720.9 1188.0 716.2 1188.0C711.5 1187.9 706.8 1187.9 702.0 1187.8C697.3 1187.8 692.6 1187.7 687.9 1187.6C683.2 1187.6 678.4 1187.5 673.7 1187.4C669.0 1187.4 664.3 1187.3 659.6 1187.2C654.9 1187.2 650.1 1187.1 645.4 1187.1C640.7 1187.0 636.0 1186.9 631.3 1186.9C626.5 1186.8 621.8 1186.7 617.1 1186.7C612.4 1186.6 607.7 1186.6 603.0 1186.6C598.3 1186.5 593.5 1186.5 588.8 1186.4C584.1 1186.4 579.4 1186.4 574.7 1186.4C570.0 1186.4 565.3 1186.4 560.6 1186.4C555.8 1186.4 551.1 1186.4 546.4 1186.4C541.7 1186.4 537.0 1186.5 532.3 1186.5C527.6 1186.6 522.9 1186.6 518.2 1186.7C513.5 1186.8 508.8 1186.9 504.1 1187.0C499.4 1187.1 492.3 1187.2 490.0 1187.3" stroke="#17ea12" stroke-width="11.9" />
<path d="M490.0 1190.7C492.4 1190.7 499.5 1190.8 504.2 1190.9C508.9 1190.9 513.6 1191.0 518.4 1191.0C523.1 1191.0 527.8 1191.0 532.5 1191.1C537.3 1191.1 542.0 1191.1 546.7 1191.1C551.4 1191.1 556.2 1191.1 560.9 1191.1C565.6 1191.1 570.3 1191.1 575.1 1191.1C579.8 1191.1 584.5 1191.1 589.2 1191.1C593.9 1191.0 598.7 1191.0 603.4 1191.0C608.1 1191.0 612.8 1190.9 617.5 1190.9C622.3 1190.9 627.0 1190.9 631.7 1190.8C636.4 1190.8 641.1 1190.8 645.8 1190.7C650.6 1190.7 655.3 1190.7 660.0 1190.6C664.7 1190.6 669.4 1190.6 674.2 1190.6C678.9 1190.5 683.6 1190.5 688.3 1190.5C693.0 1190.4 697.7 1190.4 702.5 1190.4C707.2 1190.4 711.9 1190.4 716.6 1190.4C721.3 1190.3 726.1 1190.3 730.8 1190.3C735.5 1190.3 740.2 1190.3 744.9 1190.3C749.6 1190.4 754.4 1190.4 759.1 1190.4C763.8 1190.4 768.5 1190.4 773.2 1190.5C778.0 1190.5 782.7 1190.5 787.4 1190.6C792.1 1190.6 796.9 1190.7 801.6 1190.7C806.3 1190.8 811.0 1190.9 815.7 1191.0C820.5 1191.0 825.2 1191.1 829.9 1191.2C834.6 1191.3 839.4 1191.4 844.1 1191.6C848.8 1191.7 853.5 1191.8 858.3 1192.0C863.0 1192.1 867.7 1192.3 872.5 1192.4C877.2 1192.6 881.9 1192.8 886.6 1193.0C891.4 1193.2 896.1 1193.4 900.8 1193.7C905.5 1193.9 910.3 1194.2 915.0 1194.5C919.7 1194.8 924.4 1195.2 929.1 1195.5C933.8 1195.9 938.5 1196.4 943.2 1196.8C947.9 1197.3 952.6 1197.8 957.3 1198.4C962.0 1199.0 966.6 1199.6 971.3 1200.3C975.9 1201.0 980.6 1201.8 985.2 1202.6C989.8 1203.5 994.5 1204.4 999.1 1205.3C1003.7 1206.3 1008.2 1207.4 1012.8 1208.5C1017.4 1209.6 1021.9 1210.9 1026.5 1212.2C1031.0 1213.5 1035.5 1214.9 1040.0 1216.4C1044.5 1217.9 1049.0 1219.5 1053.5 1221.2C1057.9 1222.9 1062.3 1224.7 1066.7 1226.6C1071.0 1228.5 1075.3 1230.5 1079.6 1232.6C1083.8 1234.7 1088.0 1236.9 1092.1 1239.3C1096.3 1241.6 1100.3 1244.0 1104.3 1246.6C1108.3 1249.1 1112.2 1251.8 1116.0 1254.5C1119.8 1257.3 1123.5 1260.2 1127.1 1263.1C1130.8 1266.1 1134.3 1269.1 1137.8 1272.3C1141.3 1275.4 1144.8 1278.7 1148.1 1281.9C1151.5 1285.2 1154.8 1288.6 1158.0 1292.1C1161.2 1295.5 1164.4 1299.0 1167.5 1302.6C1170.6 1306.1 1173.6 1309.7 1176.6 1313.4C1179.6 1317.0 1182.5 1320.7 1185.4 1324.4C1188.3 1328.2 1191.1 1331.9 1194.0 1335.7C1196.8 1339.5 1199.5 1343.4 1202.3 1347.2C1205.0 1351.1 1207.7 1354.9 1210.4 1358.8C1213.1 1362.7 1215.8 1366.6 1218.5 1370.5C1221.2 1374.4 1223.8 1378.3 1226.5 1382.3C1229.1 1386.2 1231.8 1390.1 1234.5 1394.0C1237.1 1397.9 1239.8 1401.8 1242.4 1405.7C1245.1 1409.6 1247.8 1413.5 1250.4 1417.4C1253.1 1421.3 1255.7 1425.2 1258.4 1429.1C1261.0 1433.0 1263.6 1436.9 1266.2 1440.8C1268.8 1444.7 1271.4 1448.7 1273.9 1452.6C1276.4 1456.6 1278.9 1460.6 1281.4 1464.6C1283.9 1468.6 1286.3 1472.6 1288.7 1476.7C1291.1 1480.7 1293.5 1484.8 1295.8 1489.0C1298.1 1493.1 1300.3 1497.2 1302.6 1501.4C1304.8 1505.6 1307.0 1509.8 1309.3 1513.9C1311.5 1518.1 1313.7 1522.3 1316.0 1526.4C1318.3 1530.6 1320.7 1534.7 1323.1 1538.7C1325.5 1542.8 1328.0 1546.8 1330.7 1550.7C1333.3 1554.7 1336.1 1558.5 1338.9 1562.3C1341.8 1566.1 1344.8 1569.8 1347.8 1573.3C1350.9 1576.9 1354.1 1580.4 1357.4 1583.8C1360.7 1587.1 1364.1 1590.4 1367.7 1593.5C1371.2 1596.7 1374.8 1599.7 1378.5 1602.5C1382.2 1605.4 1386.0 1608.1 1389.9 1610.7C1393.8 1613.3 1397.8 1615.7 1401.9 1617.9C1406.0 1620.2 1410.2 1622.3 1414.5 1624.2C1418.7 1626.1 1423.1 1627.8 1427.5 1629.4C1432.0 1630.9 1436.5 1632.2 1441.1 1633.4C1445.7 1634.6 1450.4 1635.5 1455.1 1636.4C1459.8 1637.2 1464.5 1637.9 1469.3 1638.4C1474.1 1639.0 1478.9 1639.4 1483.6 1639.7C1488.4 1640.0 1493.2 1640.2 1498.0 1640.4C1502.7 1640.5 1507.5 1640.5 1512.2 1640.5C1516.9 1640.5 1523.8 1640.3 1526.1 1640.3" stroke="#17ea12" stroke-width="11.9" />
<path d="M1144.0 38.0C1141.9 39.1 1135.6 42.5 1131.5 44.8C1127.4 47.1 1123.3 49.5 1119.2 52.0C1115.1 54.4 1111.1 56.9 1107.0 59.4C1103.0 61.9 1099.0 64.4 1095.0 66.9C1091.0 69.4 1086.9 71.9 1082.9 74.4C1078.9 76.9 1074.8 79.4 1070.8 81.8C1066.7 84.3 1062.6 86.7 1058.5 89.0C1054.4 91.3 1050.3 93.6 1046.1 95.9C1041.9 98.1 1037.7 100.3 1033.6 102.6C1029.4 104.8 1025.2 107.0 1021.0 109.2C1016.8 111.5 1012.6 113.7 1008.5 116.0C1004.4 118.3 1000.2 120.7 996.1 123.1C992.0 125.5 988.0 128.0 984.0 130.6C980.0 133.3 976.0 135.9 972.1 138.8C968.3 141.6 964.4 144.5 960.8 147.6C957.2 150.7 953.6 154.0 950.4 157.4C947.1 160.8 943.9 164.3 941.1 168.0C938.3 171.8 935.7 175.7 933.3 179.8C931.0 183.8 928.9 188.0 927.0 192.2C925.1 196.5 923.4 200.8 921.9 205.2C920.4 209.6 919.1 214.1 917.9 218.7C916.7 223.2 915.7 227.8 914.8 232.4C913.8 237.1 913.0 241.8 912.3 246.5C911.5 251.2 910.9 256.0 910.3 260.8C909.6 265.5 909.1 270.3 908.5 275.1C907.9 279.9 907.3 284.7 906.7 289.4C906.1 294.2 905.5 299.0 904.9 303.7C904.2 308.4 903.5 313.1 902.7 317.8C901.9 322.5 901.0 327.2 900.1 331.8C899.2 336.5 898.3 341.1 897.2 345.7C896.2 350.3 895.1 354.8 893.9 359.4C892.7 363.9 891.5 368.4 890.2 373.0C888.8 377.5 887.4 381.9 885.9 386.4C884.5 390.9 882.9 395.3 881.3 399.8C879.6 404.2 877.9 408.6 876.2 413.0C874.4 417.4 872.6 421.8 870.8 426.1C868.9 430.5 867.0 434.8 865.1 439.2C863.1 443.5 861.1 447.8 859.1 452.1C857.1 456.4 855.1 460.7 853.0 465.0C850.9 469.3 848.9 473.5 846.8 477.8C844.6 482.1 842.5 486.3 840.4 490.6C838.3 494.8 836.1 499.0 834.0 503.3C831.8 507.5 829.6 511.7 827.5 516.0C825.3 520.2 823.2 524.4 821.0 528.7C818.8 532.9 816.7 537.1 814.5 541.3C812.4 545.6 810.2 549.8 808.1 554.0C806.0 558.3 803.8 562.5 801.7 566.8C799.6 571.0 797.6 575.3 795.5 579.5C793.4 583.8 791.4 588.1 789.4 592.4C787.4 596.6 785.4 600.9 783.5 605.3C781.5 609.6 779.6 613.9 777.7 618.2C775.8 622.6 774.0 626.9 772.2 631.3C770.4 635.7 768.6 640.1 766.9 644.5C765.2 648.9 763.5 653.3 761.9 657.8C760.2 662.2 758.6 666.6 757.1 671.1C755.5 675.6 754.0 680.1 752.5 684.6C751.0 689.1 749.5 693.6 748.1 698.1C746.7 702.6 745.3 707.2 743.9 711.7C742.6 716.2 741.3 720.8 740.0 725.4C738.7 729.9 737.4 734.5 736.2 739.1C735.0 743.7 733.8 748.3 732.6 752.9C731.4 757.5 730.3 762.1 729.2 766.7C728.1 771.3 727.0 775.9 725.9 780.6C724.9 785.2 723.8 789.8 722.8 794.5C721.8 799.1 720.8 803.7 719.9 808.4C718.9 813.0 718.0 817.7 717.1 822.3C716.2 827.0 715.3 831.6 714.4 836.3C713.5 841.0 712.7 845.6 711.8 850.3C711.0 854.9 710.2 859.6 709.4 864.3C708.6 868.9 707.8 873.6 707.0 878.3C706.3 883.0 705.5 887.6 704.8 892.3C704.0 897.0 703.3 901.7 702.6 906.3C701.9 911.0 701.1 915.7 700.4 920.4C699.7 925.1 699.0 929.8 698.4 934.4C697.7 939.1 697.0 943.8 696.3 948.5C695.6 953.2 695.0 957.9 694.3 962.5C693.6 967.2 693.0 971.9 692.3 976.6C691.6 981.3 691.0 986.0 690.3 990.7C689.6 995.3 688.9 1000.0 688.1 1004.7C687.3 1009.4 686.5 1014.0 685.5 1018.6C684.4 1023.3 683.3 1027.9 682.0 1032.5C680.7 1037.0 679.2 1041.6 677.5 1046.1C675.7 1050.6 673.8 1055.1 671.6 1059.4C669.5 1063.7 667.1 1067.9 664.5 1071.9C661.9 1075.9 659.0 1079.7 656.0 1083.3C652.9 1086.8 649.6 1090.1 646.1 1093.2C642.6 1096.3 638.8 1099.1 635.0 1101.7C631.1 1104.3 627.0 1106.6 622.8 1108.8C618.7 1111.0 614.3 1112.9 610.0 1114.8C605.6 1116.6 601.1 1118.2 596.5 1119.7C592.0 1121.2 587.4 1122.5 582.8 1123.7C578.2 1125.0 573.6 1126.1 568.9 1127.1C564.3 1128.1 559.6 1129.0 554.9 1129.8C550.2 1130.6 545.5 1131.3 540.8 1131.9C536.1 1132.5 531.4 1133.1 526.7 1133.6C522.0 1134.1 517.3 1134.5 512.5 1134.9C507.8 1135.3 503.0 1135.6 498.3 1135.9C493.6 1136.2 488.8 1136.5 484.1 1136.7C479.4 1137.0 474.6 1137.2 469.9 1137.4C465.2 1137.6 460.4 1137.8 455.7 1138.0C451.0 1138.2 446.2 1138.3 441.5 1138.5C436.8 1138.6 432.1 1138.7 427.3 1138.8C422.6 1139.0 417.9 1139.1 413.1 1139.1C408.4 1139.2 403.7 1139.3 398.9 1139.4C394.2 1139.5 389.5 1139.5 384.7 1139.6C380.0 1139.6 375.2 1139.7 370.5 1139.7C365.8 1139.8 361.0 1139.8 356.3 1139.9C351.5 1139.9 344.4 1140.0 342.0 1140.0" stroke="#0f0adc" stroke-width="11.9" />
<path d="M342.0 1142.4C344.4 1142.3 351.5 1142.2 356.3 1142.1C361.1 1142.0 365.8 1141.9 370.6 1141.9C375.3 1141.9 380.1 1141.9 384.8 1141.9C389.6 1141.9 394.3 1141.9 399.1 1142.0C403.8 1142.1 408.6 1142.2 413.3 1142.3C418.1 1142.4 422.8 1142.5 427.5 1142.7C432.3 1142.8 437.0 1143.0 441.8 1143.2C446.5 1143.4 451.2 1143.7 456.0 1143.9C460.7 1144.2 465.4 1144.4 470.1 1144.7C474.9 1145.0 479.6 1145.3 484.3 1145.7C489.1 1146.0 493.8 1146.4 498.5 1146.7C503.3 1147.1 508.0 1147.5 512.7 1147.9C517.5 1148.3 522.2 1148.8 526.9 1149.2C531.7 1149.7 536.4 1150.2 541.1 1150.7C545.9 1151.2 550.6 1151.7 555.3 1152.2C560.0 1152.8 564.8 1153.3 569.5 1154.0C574.2 1154.6 578.9 1155.2 583.6 1155.9C588.3 1156.6 593.0 1157.3 597.7 1158.1C602.4 1158.9 607.1 1159.7 611.8 1160.6C616.4 1161.5 621.1 1162.5 625.7 1163.5C630.3 1164.5 635.0 1165.5 639.6 1166.6C644.2 1167.8 648.8 1169.0 653.3 1170.2C657.9 1171.5 662.4 1172.8 667.0 1174.2C671.5 1175.7 676.0 1177.1 680.5 1178.7C684.9 1180.3 689.4 1182.0 693.8 1183.7C698.2 1185.5 702.6 1187.3 707.0 1189.2C711.3 1191.2 715.7 1193.2 719.9 1195.3C724.2 1197.4 728.5 1199.6 732.6 1201.9C736.8 1204.2 741.0 1206.6 745.0 1209.0C749.1 1211.5 753.1 1214.0 757.1 1216.7C761.0 1219.3 764.9 1222.1 768.7 1224.9C772.5 1227.7 776.3 1230.7 779.9 1233.7C783.6 1236.7 787.1 1239.8 790.6 1243.0C794.1 1246.2 797.5 1249.5 800.8 1252.8C804.1 1256.2 807.3 1259.7 810.4 1263.3C813.5 1266.8 816.6 1270.5 819.5 1274.2C822.4 1277.9 825.2 1281.7 828.0 1285.6C830.7 1289.4 833.4 1293.4 835.9 1297.4C838.5 1301.4 841.0 1305.4 843.4 1309.6C845.8 1313.7 848.1 1317.8 850.4 1322.0C852.6 1326.3 854.8 1330.5 856.9 1334.8C859.0 1339.1 861.1 1343.4 863.0 1347.8C865.0 1352.1 866.9 1356.5 868.7 1360.9C870.6 1365.3 872.3 1369.7 874.0 1374.1C875.8 1378.5 877.4 1383.0 879.1 1387.5C880.7 1391.9 882.3 1396.4 883.8 1400.9C885.3 1405.4 886.8 1409.9 888.3 1414.4C889.8 1418.9 891.3 1423.4 892.7 1427.9C894.1 1432.4 895.5 1437.0 897.0 1441.5C898.4 1446.0 899.8 1450.5 901.1 1455.0C902.5 1459.6 903.9 1464.1 905.3 1468.6C906.7 1473.1 908.1 1477.6 909.6 1482.1C911.0 1486.6 912.4 1491.1 913.9 1495.6C915.4 1500.1 916.9 1504.6 918.4 1509.1C919.9 1513.6 921.5 1518.0 923.1 1522.5C924.7 1527.0 926.4 1531.4 928.1 1535.9C929.8 1540.3 931.6 1544.8 933.4 1549.2C935.2 1553.6 937.1 1558.0 939.0 1562.4C941.0 1566.8 943.0 1571.2 945.2 1575.6C947.3 1579.9 949.5 1584.3 951.8 1588.4C954.2 1592.6 956.7 1596.7 959.4 1600.6C962.0 1604.5 964.8 1608.3 967.9 1611.7C971.0 1615.2 974.3 1618.4 977.8 1621.3C981.4 1624.2 985.2 1626.8 989.2 1629.0C993.3 1631.2 997.7 1633.0 1002.3 1634.5C1006.8 1636.1 1011.6 1637.2 1016.4 1638.1C1021.2 1639.1 1026.1 1639.7 1031.0 1640.1C1035.8 1640.5 1040.8 1640.7 1045.5 1640.7C1050.2 1640.8 1057.0 1640.4 1059.3 1640.3" stroke="#0f0adc" stroke-width="11.9" />
</g>
<path d="M1256 491 L1259.5 496.5" stroke="#3c5a3c" stroke-width="3.2" stroke-linecap="round" fill="none"/>
<line x1="703.0" y1="330.0" x2="840.7" y2="421.2" stroke="#2a12e0" stroke-width="7.5" stroke-linecap="butt"/><polygon points="854.0,430.0 834.3,425.3 842.0,413.7" fill="#2a12e0"/>
<line x1="1134.5" y1="342.0" x2="1243.3" y2="416.9" stroke="#17ea12" stroke-width="7.5" stroke-linecap="butt"/><polygon points="1256.5,426.0 1236.9,421.0 1244.8,409.5" fill="#17ea12"/>
<line x1="1564.3" y1="445.5" x2="1588.0" y2="598.2" stroke="#000" stroke-width="7.5" stroke-linecap="butt"/><polygon points="1590.4,614.0 1580.6,596.3 1594.4,594.2" fill="#000"/>
<line x1="1800.0" y1="902.5" x2="1689.5" y2="746.6" stroke="#b00f22" stroke-width="7.5" stroke-linecap="butt"/><polygon points="1680.3,733.5 1697.0,745.0 1685.6,753.1" fill="#b00f22"/>
<text class="ann" font-size="54" x="466.5" y="314">TiN/NbN−NaCl</text>
<text class="ann" font-size="54" transform="translate(993 453.5) rotate(-46)">TiN/NbN−Hank's</text>
<text class="ann" font-size="54.4" x="1397" y="435.5">Uncoated−NaCl</text>
<text class="ann" font-size="54.6" x="1721.7" y="984.5">Uncoated−Hank's</text>
</g>
<defs><clipPath id="plotclip"><rect x="339.6" y="60.8" width="1956" height="1584.7"/></clipPath></defs>
<defs><filter id="soft" x="0" y="0" width="2362" height="1952" filterUnits="userSpaceOnUse"><feGaussianBlur stdDeviation="1.15"/></filter></defs>
</svg>
</body>
</html>
